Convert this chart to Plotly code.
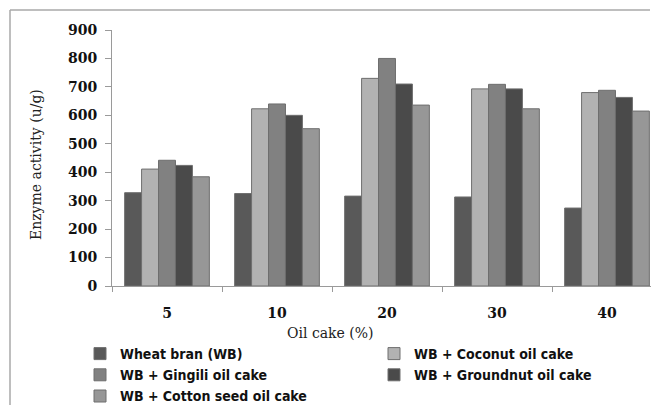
import plotly.graph_objects as go

categories = ["5", "10", "20", "30", "40"]
series_names = [
    "Wheat bran (WB)",
    "WB + Coconut oil cake",
    "WB + Gingili oil cake",
    "WB + Groundnut oil cake",
    "WB + Cotton seed oil cake",
]
wheat_bran = [328, 325, 316, 313, 274]
coconut = [411, 623, 730, 693, 680]
gingili = [442, 640, 800, 709, 688]
groundnut = [424, 600, 710, 693, 663]
cotton = [384, 553, 636, 623, 615]
y_ticks = [0, 100, 200, 300, 400, 500, 600, 700, 800, 900]

series_values = [wheat_bran, coconut, gingili, groundnut, cotton]
colors = ["#595959", "#b2b2b2", "#818181", "#4a4a4a", "#979797"]

W, H = 651, 405
L, R, T, B = 112, 0, 30, 119
pw = W - L - R
ph = H - T - B

fig = go.Figure()
for name, vals, col in zip(series_names, series_values, colors):
    fig.add_trace(go.Bar(
        x=categories, y=vals, name=name,
        marker=dict(color=col, line=dict(color="#6e6e6e", width=1)),
    ))

def px_x(p):
    return (p - L) / pw

def px_y(p):
    return (H - B - p) / ph

fig.update_layout(
    width=W, height=H,
    margin=dict(l=L, r=R, t=T, b=B, autoexpand=False),
    paper_bgcolor="white", plot_bgcolor="white",
    barmode="group", bargap=0.23, bargroupgap=0,
    showlegend=True,
    legend=dict(
        orientation="h",
        x=px_x(80), xanchor="left",
        y=px_y(338), yanchor="top",
        entrywidth=249, entrywidthmode="pixels",
        font=dict(family="DejaVu Sans Condensed, DejaVu Sans", size=14,
                  color="#111111", weight="bold"),
        itemclick=False, traceorder="normal",
        bgcolor="rgba(0,0,0,0)",
        tracegroupgap=0,
    ),
    xaxis=dict(
        type="category",
        range=[-0.5, -0.5 + pw / 110.0],
        showline=True, linecolor="#9a9a9a", linewidth=1,
        ticks="outside", tickson="boundaries", ticklen=5, tickcolor="#9a9a9a",
        ticklabelstandoff=14,
        tickfont=dict(family="DejaVu Serif", size=14, color="#111111", weight="bold"),
        showgrid=False, zeroline=False,
        fixedrange=True,
    ),
    yaxis=dict(
        range=[0, 900],
        tickvals=y_ticks,
        showline=True, linecolor="#9a9a9a", linewidth=1,
        ticks="outside", ticklen=6, tickcolor="#9a9a9a",
        ticklabelstandoff=5,
        tickfont=dict(family="DejaVu Serif", size=14, color="#111111", weight="bold"),
        showgrid=False, zeroline=False,
        fixedrange=True,
    ),
    shapes=[
        dict(type="line", xref="paper", yref="paper",
             x0=px_x(10), x1=px_x(650), y0=px_y(10), y1=px_y(10),
             line=dict(color="#a8a8a8", width=1.5)),
        dict(type="line", xref="paper", yref="paper",
             x0=px_x(10), x1=px_x(10), y0=px_y(10), y1=px_y(405),
             line=dict(color="#a8a8a8", width=1.5)),
    ],
    annotations=[
        dict(text="Oil cake (%)", xref="paper", yref="paper",
             x=px_x(330), y=px_y(333), xanchor="center", yanchor="middle",
             showarrow=False,
             font=dict(family="DejaVu Serif", size=14, color="#222222")),
        dict(text="Enzyme activity (u/g)", xref="paper", yref="paper",
             x=px_x(36), y=px_y(165), xanchor="center", yanchor="middle",
             textangle=-90, showarrow=False,
             font=dict(family="DejaVu Serif", size=14, color="#222222")),
    ],
)

fig.write_html(
    "out.html",
    config={"displayModeBar": False},
    post_script="document.body.style.margin='0';document.body.style.overflow='hidden';",
)
